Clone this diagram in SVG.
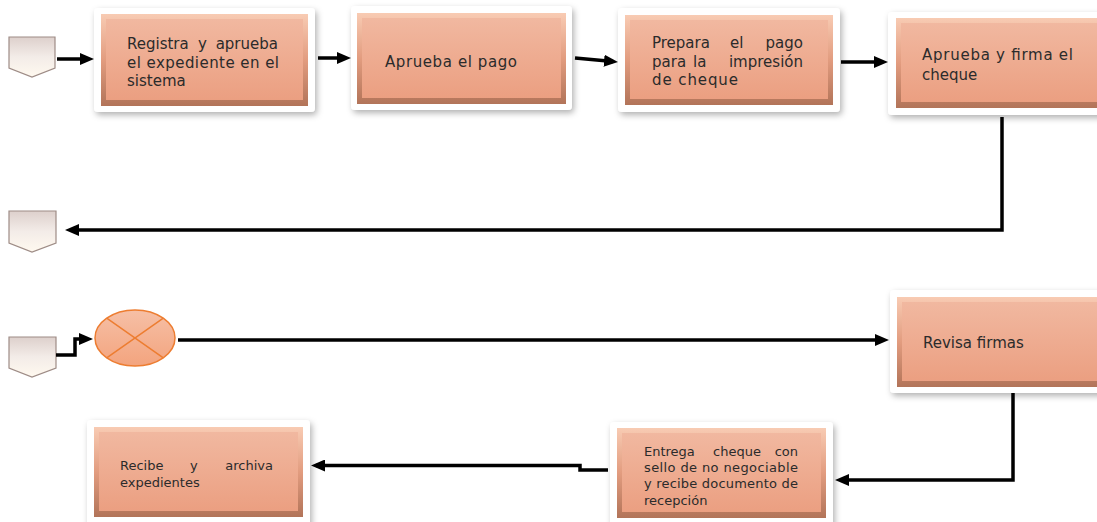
<svg xmlns="http://www.w3.org/2000/svg" width="1097" height="522" viewBox="0 0 1097 522">
<defs>
  <linearGradient id="face" x1="0" y1="0" x2="0" y2="1">
    <stop offset="0" stop-color="#f1b8a0"/>
    <stop offset="1" stop-color="#eb9f81"/>
  </linearGradient>
  <linearGradient id="bevel" x1="0" y1="0" x2="0" y2="1">
    <stop offset="0" stop-color="#f8cbb3"/>
    <stop offset="0.5" stop-color="#e29c7f"/>
    <stop offset="1" stop-color="#b27459"/>
  </linearGradient>
  <linearGradient id="page" x1="0" y1="0" x2="0" y2="1">
    <stop offset="0" stop-color="#ddd0cc"/>
    <stop offset="0.5" stop-color="#f3ece8"/>
    <stop offset="1" stop-color="#fff9ef"/>
  </linearGradient>
  <linearGradient id="circ" x1="0" y1="0" x2="0" y2="1">
    <stop offset="0" stop-color="#f6c0a6"/>
    <stop offset="1" stop-color="#f3a47e"/>
  </linearGradient>
  <filter id="sh" x="-10%" y="-10%" width="130%" height="140%">
    <feDropShadow dx="2" dy="3" stdDeviation="3" flood-color="#000" flood-opacity="0.3"/>
  </filter>
  <marker id="ah" markerUnits="userSpaceOnUse" markerWidth="14" markerHeight="12" refX="9" refY="6" orient="auto">
    <path d="M0,0 L14,6 L0,12 Z" fill="#000"/>
  </marker>
  <style>
    .frame{fill:#fff;filter:url(#sh)}
    .bev{fill:url(#bevel)}
    .face{fill:url(#face)}
    .pg{fill:url(#page);stroke:#9e8c86;stroke-width:1.2}
    .t{font-family:"DejaVu Sans","Liberation Sans",sans-serif;font-size:15px;fill:#2b2b2b}
    .s{font-family:"DejaVu Sans","Liberation Sans",sans-serif;font-size:13px;fill:#2b2b2b}
    .c{fill:none;stroke:#000;stroke-width:3.5;marker-end:url(#ah)}
  </style>
</defs>

<g id="page1"><path class="pg" d="M9,37 H55 V68 L32,77 L9,68 Z"/></g>
<g id="page2"><path class="pg" d="M9,211 H56 V243 L32,252 L9,243 Z"/></g>
<g id="page3"><path class="pg" d="M9,337 H56 V368 L32,377 L9,368 Z"/></g>

<g id="n1">
  <rect class="frame" x="94" y="8" width="221" height="104" rx="4"/>
  <rect class="bev" x="101" y="14" width="207" height="92"/>
  <rect class="face" x="106" y="19" width="197" height="81"/>
  <text class="t" y="49"><tspan x="127">Registra</tspan> <tspan x="198">y</tspan> <tspan x="278" text-anchor="end">aprueba</tspan></text>
  <text class="t" x="127" y="67.5" textLength="152" lengthAdjust="spacing">el expediente en el</text>
  <text class="t" x="127" y="86">sistema</text>
</g>

<g id="n2">
  <rect class="frame" x="351" y="6" width="221" height="104" rx="4"/>
  <rect class="bev" x="357" y="13" width="209" height="91"/>
  <rect class="face" x="362" y="18" width="199" height="80"/>
  <text class="t" x="385" y="67" textLength="132" lengthAdjust="spacing">Aprueba el pago</text>
</g>

<g id="n3">
  <rect class="frame" x="618" y="8" width="222" height="104" rx="4"/>
  <rect class="bev" x="625" y="15" width="208" height="90"/>
  <rect class="face" x="630" y="20" width="198" height="79"/>
  <text class="t" y="48"><tspan x="652">Prepara</tspan> <tspan x="730">el</tspan> <tspan x="803" text-anchor="end">pago</tspan></text>
  <text class="t" y="67"><tspan x="652">para</tspan> <tspan x="693">la</tspan> <tspan x="803" text-anchor="end">impresión</tspan></text>
  <text class="t" x="652" y="85" textLength="86" lengthAdjust="spacing">de cheque</text>
</g>

<g id="n4">
  <rect class="frame" x="888" y="12" width="222" height="103" rx="4"/>
  <rect class="bev" x="896" y="18" width="210" height="90"/>
  <rect class="face" x="901" y="23" width="200" height="79"/>
  <text class="t" x="922" y="60" textLength="151" lengthAdjust="spacing">Aprueba y firma el</text>
  <text class="t" x="922" y="80">cheque</text>
</g>

<g id="n5">
  <ellipse cx="135" cy="338" rx="40" ry="28" fill="url(#circ)" stroke="#ed7d31" stroke-width="1.5"/>
  <path d="M106.7,318.2 L163.3,357.8 M106.7,357.8 L163.3,318.2" stroke="#ed7d31" stroke-width="1.5"/>
</g>

<g id="n6">
  <rect class="frame" x="890" y="290" width="220" height="103" rx="4"/>
  <rect class="bev" x="897" y="297" width="210" height="90"/>
  <rect class="face" x="902" y="302" width="200" height="79"/>
  <text class="t" x="923" y="348">Revisa firmas</text>
</g>

<g id="n7">
  <rect class="frame" x="610" y="422" width="223" height="108" rx="4"/>
  <rect class="bev" x="617" y="428" width="209" height="90"/>
  <rect class="face" x="622" y="433" width="199" height="79"/>
  <text class="s" y="456"><tspan x="644">Entrega</tspan> <tspan x="713">cheque</tspan> <tspan x="798" text-anchor="end">con</tspan></text>
  <text class="s" x="644" y="472" textLength="154" lengthAdjust="spacing">sello de no negociable</text>
  <text class="s" x="644" y="488" textLength="154" lengthAdjust="spacing">y recibe documento de</text>
  <text class="s" x="644" y="505">recepción</text>
</g>

<g id="n8">
  <rect class="frame" x="87" y="420" width="223" height="110" rx="4"/>
  <rect class="bev" x="94" y="427" width="209" height="90"/>
  <rect class="face" x="99" y="432" width="199" height="79"/>
  <text class="s" y="470"><tspan x="120">Recibe</tspan> <tspan x="190">y</tspan> <tspan x="273" text-anchor="end">archiva</tspan></text>
  <text class="s" x="120" y="487">expedientes</text>
</g>

<g id="connectors">
  <path class="c" d="M57,59 H89"/>
  <path class="c" d="M318,58 H346"/>
  <path class="c" d="M575,58 L613,61.5"/>
  <path class="c" d="M841,62 H883"/>
  <path class="c" d="M1002,117 V230 H70"/>
  <path class="c" d="M56,355 H75 V339 H88"/>
  <path class="c" d="M178,340 H884"/>
  <path class="c" d="M1013,393 V480 H840"/>
  <path class="c" d="M608,470 H580 V465.5 H316"/>
</g>
</svg>
